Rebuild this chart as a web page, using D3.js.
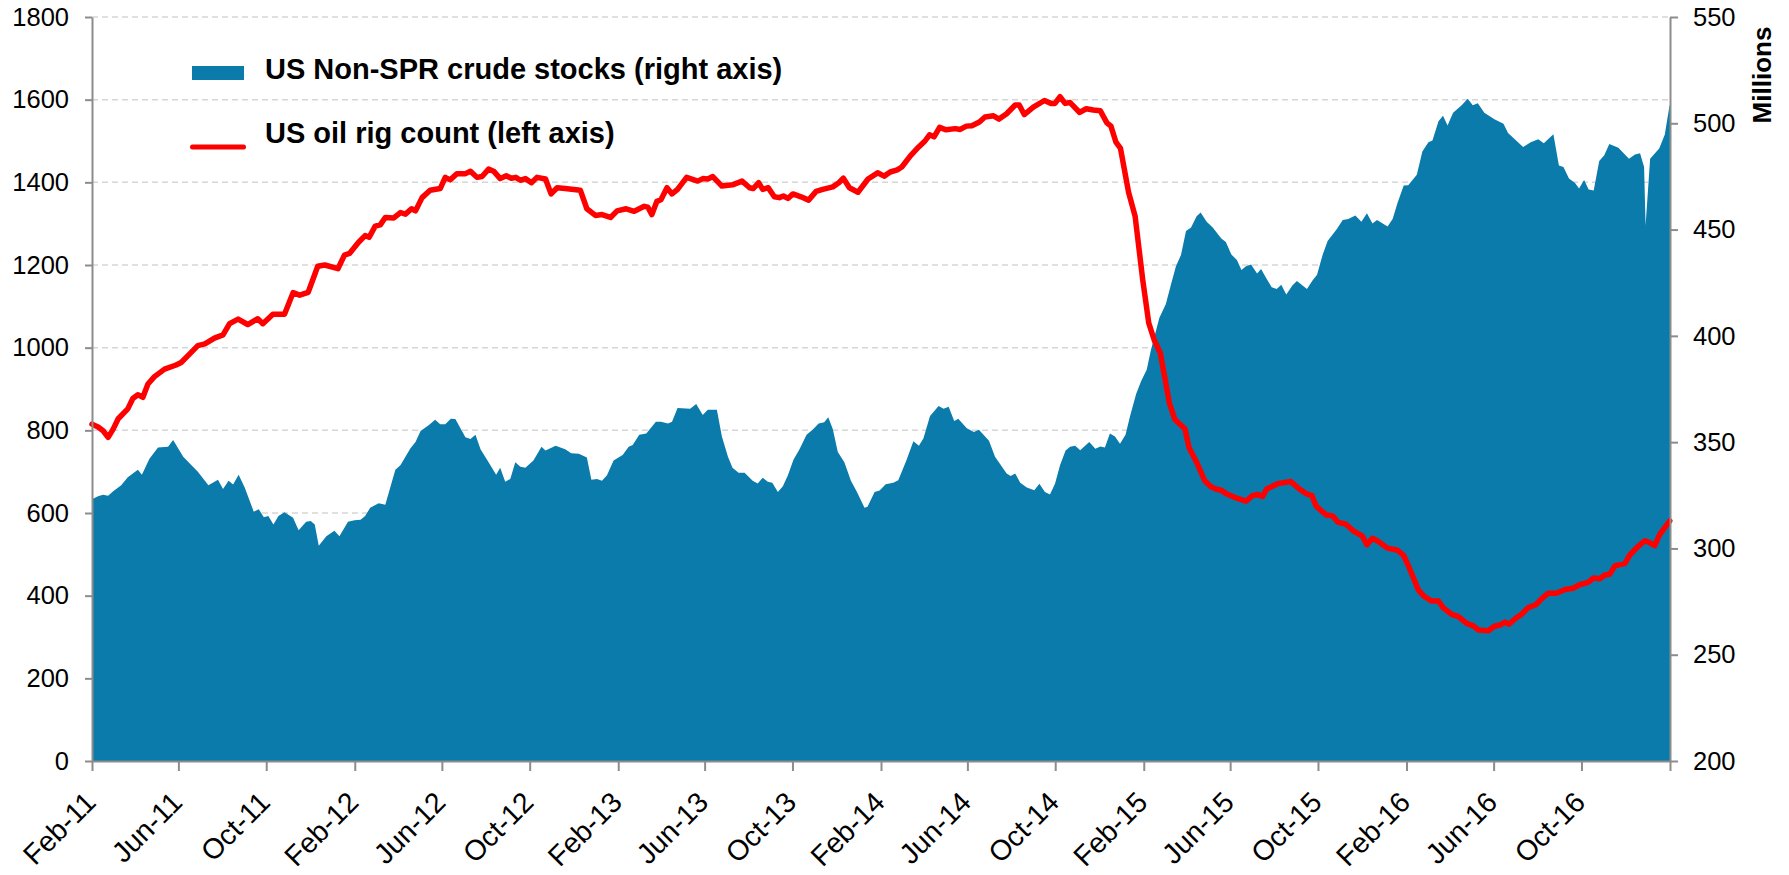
<!DOCTYPE html>
<html>
<head>
<meta charset="utf-8">
<script src="https://cdn.jsdelivr.net/npm/d3@7"></script>
<style>
  body { margin: 0; background: #fff; }
  svg { display: block; font-family: "Liberation Sans", Arial, sans-serif; }
</style>
</head>
<body>
<svg width="1789" height="875"></svg>
<script>
// time is in weeks counted from 1 Feb 2011
const startDate = new Date(2011, 1, 1);
const endDate = new Date(2017, 1, 1);

const rigWeeks = [0, 1.2, 2.2, 3.2, 4.2, 5.2, 7.1, 8.1, 9.1, 10.1, 11.1, 12.4, 14.4, 16.7, 17.7, 19, 21, 22.4, 24.3, 26,
  27.3, 29, 30.9, 32.9, 33.9, 35.9, 38.2, 39.9, 41.2, 42.9, 44.8, 46.2, 48.8, 50.1, 51.1, 52.9, 54.2, 55, 56.2, 57.2,
  58.2, 59.9, 61.2, 62.2, 63.4, 64.2, 65.5, 67.1, 69.1, 70.1, 71.1, 72.4, 74.1, 75.1, 76.4, 77.4, 78.7, 79.7, 81, 82.2,
  83.2, 84.1, 85, 86, 87.2, 88.3, 90, 91.1, 92.3, 93.9, 96.9, 98.2, 99.9, 101.2, 102.9, 104.2, 106, 107.6, 109.6, 110.3,
  111.1, 112.1, 112.9, 114.1, 115.1, 116.2, 118, 120.2, 121.2, 122.2, 123.2, 125, 127.1, 129, 130.5, 131.2, 132.3, 133.1, 134.2, 135.4,
  136.4, 137.2, 138.1, 139.1, 140.7, 142.2, 143.7, 145, 147, 148.2, 149.1, 150.3, 152, 154, 155.9, 157.2, 158.4, 159.8, 160.7, 162.4,
  164, 165.3, 166.2, 167.1, 168.2, 169.5, 171.3, 172.3, 173.5, 174.6, 176.1, 177.2, 178.9, 180, 181.5, 183.2, 184, 185, 186.8, 189,
  190.3, 191.1, 192.1, 193.1, 194.1, 196, 197.3, 198.7, 200.1, 201.4, 202.2, 203.2, 204.1, 205.7, 207, 208.5, 209.7, 210.8, 212, 213.8,
  214.9, 216.9, 217.7, 219.2, 220.8, 222, 223, 224.1, 225, 226.7, 229, 230.3, 231.3, 232.3, 233.1, 235.3, 237.9, 239.6, 240.9, 242.1,
  242.9, 243.9, 245, 246.2, 247.2, 248.8, 250.3, 252.1, 253, 254.1, 255.4, 257.1, 259.1, 260.3, 261.3, 262.2, 263.2, 264.2, 265.8, 267.2,
  268.1, 269.8, 271.1, 272.8, 274.1, 275.1, 277.1, 278.3, 279.4, 280.4, 281.2, 282.4, 283.7, 285, 286.5, 287.7, 289, 290.6, 292.3, 293.9,
  295.3, 296.9, 298, 299.2, 300.2, 301.2, 302.2, 304.2, 305.2, 306.8, 308.2, 308.8, 310.1, 311.1, 313.1];
const rigCounts = [815, 808, 799, 783, 803, 828, 852, 877, 886, 880, 912, 930, 948, 958, 964, 980, 1005, 1009, 1023, 1031,
  1058, 1069, 1056, 1070, 1058, 1081, 1081, 1133, 1127, 1134, 1197, 1200, 1191, 1224, 1228, 1255, 1271, 1267, 1294, 1297,
  1315, 1314, 1327, 1323, 1336, 1331, 1363, 1381, 1385, 1412, 1406, 1421, 1421, 1427, 1412, 1414, 1432, 1427, 1409, 1416,
  1410, 1412, 1405, 1409, 1399, 1412, 1408, 1372, 1387, 1385, 1381, 1336, 1320, 1322, 1315, 1331, 1336, 1330, 1342, 1340,
  1322, 1354, 1358, 1387, 1372, 1383, 1412, 1403, 1409, 1408, 1414, 1391, 1394, 1403, 1387, 1385, 1399, 1383, 1387, 1365,
  1363, 1367, 1361, 1372, 1365, 1357, 1378, 1383, 1389, 1399, 1410, 1387, 1376, 1408, 1423, 1415, 1425, 1430, 1437, 1464,
  1485, 1500, 1515, 1510, 1533, 1527, 1530, 1528, 1536, 1537, 1546, 1558, 1561, 1553, 1566, 1587, 1587, 1564, 1582, 1598,
  1591, 1591, 1607, 1591, 1593, 1569, 1578, 1575, 1573, 1544, 1536, 1497, 1482, 1376, 1318, 1165, 1060, 1018, 987, 866,
  826, 803, 758, 723, 678, 664, 658, 655, 647, 638, 629, 642, 645, 640, 658, 671, 676, 658, 647, 642,
  617, 606, 595, 593, 578, 573, 557, 544, 523, 539, 530, 515, 510, 497, 470, 444, 414, 400, 387, 387,
  371, 355, 350, 333, 327, 317, 315, 326, 329, 336, 331, 344, 355, 371, 378, 393, 406, 406, 415, 418,
  427, 432, 443, 441, 450, 452, 472, 478, 499, 519, 533, 530, 521, 548, 581];

const stockWeeks = [0, 1.2, 2.2, 3.2, 4.2, 5.8, 7.1, 9.1, 9.9, 11.4, 13.1, 15.1, 16.1, 18.1, 21, 23.1, 25, 26, 27.1, 28,
  29.1, 30.3, 32.1, 33.1, 34.1, 35, 36, 37, 38.2, 39.9, 41, 42.5, 43.4, 44.2, 45, 46.5, 48.1, 49.1, 50.8, 52.1,
  53.3, 54.2, 55.2, 56.9, 58.2, 60.2, 61.2, 63.2, 64.2, 65.2, 66.8, 68.1, 69.1, 70.1, 71.2, 72.1, 74.1, 75.1, 76.1, 77.1,
  78.7, 80.2, 81, 82, 83, 84, 85, 86, 87.6, 89.2, 90, 92, 93.9, 95.1, 96.6, 98.2, 99.1, 100.2, 101.2, 102.2,
  103.5, 105.3, 106.5, 107.3, 108.6, 110, 111.9, 112.9, 114.3, 115.1, 116.2, 118.7, 119.9, 121.2, 122.2, 124, 125, 126.2, 127.1, 128.3,
  129.5, 131.1, 132.1, 133.1, 134.1, 135, 136.1, 137.1, 138.1, 139.2, 140.4, 141.8, 143, 144.2, 145.3, 146.1, 147, 148, 149.3, 150.6,
  151.8, 153.3, 153.9, 155.3, 156.3, 157.5, 159, 160, 161.6, 163, 164.1, 165, 166.3, 168, 169, 170, 171.1, 171.9, 173.6, 175,
  176, 178, 179.2, 181.5, 182.3, 183.2, 184.2, 185.5, 187, 188, 189.1, 190.1, 191.1, 192.1, 193.2, 194.1, 195.1, 196.1, 197.9, 199.1,
  200.1, 201, 202, 203, 204, 205.1, 206, 207.2, 208.2, 209.3, 210.1, 211.8, 213.1, 214.1, 215.1, 216.1, 217.1, 218.1, 219.2, 220,
  221.2, 222.4, 224.1, 225, 226.1, 227.2, 228.1, 229, 230, 231.2, 232, 233, 234.1, 235.1, 236, 237, 238.2, 239.1, 241.1, 242.2,
  243.1, 244.2, 245.2, 247, 248.2, 249.3, 250.7, 251.9, 253, 254.1, 255, 257.1, 258.1, 259.1, 260.3, 261.2, 262.9, 264, 265.2, 266,
  267.2, 268.1, 269, 270.1, 271.8, 273, 274, 275, 276.3, 278.3, 280.1, 281, 284, 285.5, 287, 288.1, 290, 291.1, 292, 293.1,
  294.3, 295.1, 296.1, 297, 298, 299.1, 300.1, 301.1, 302.9, 305, 306.2, 307.2, 308, 308.3, 309.2, 311, 312.1, 313, 313.2];
const stockLevels = [323.1, 324.5, 325.2, 324.8, 326.9, 329.7, 333.5, 337, 334.7, 342.2, 347.5, 347.8, 351, 343.1, 336.1, 329.7, 332.3, 328, 331.8, 330.1,
  334.7, 328.7, 317.3, 318.4, 314.7, 315.2, 311.2, 315.2, 317, 314.4, 308.6, 312.6, 312.9, 311.2, 301.3, 305.7, 308.3, 305.7, 312.6, 313.2,
  313.5, 315.2, 319.1, 321.3, 320.5, 337, 339.1, 347.1, 350.1, 355.3, 357.9, 360.5, 358.4, 358.4, 361, 360.9, 352.3, 351.5, 353.5, 346.6,
  340.5, 334.7, 337.9, 331.4, 332.7, 340.5, 338.4, 337.9, 341.4, 347.8, 346.1, 348.3, 346.6, 344.8, 344.5, 342.8, 332.3, 332.7, 331.8, 334.4,
  341.4, 344, 347.8, 348.7, 353.5, 354.1, 359.6, 359.6, 358.8, 359.6, 366.1, 365.7, 368, 362.8, 365.2, 365.2, 352.7, 343.1, 337.9, 335.6,
  335.6, 331.8, 330.6, 333.2, 331.4, 330.9, 326.6, 329.2, 334.4, 341.7, 346.6, 353.5, 355.8, 358.8, 359.3, 361.7, 356.2, 345.4, 340.5, 331.8,
  326.6, 319.1, 319.6, 326.6, 327.2, 330.2, 330.9, 332.1, 341.4, 350.4, 348.3, 351.8, 362.3, 367, 365.7, 366.6, 360, 361, 356.5, 354.8,
  355.8, 350.6, 343.1, 335.3, 334.1, 335.3, 330.9, 328.7, 327.4, 330.4, 326.6, 325.4, 330.4, 339.1, 346.1, 347.8, 348.3, 346.2, 350.1, 346.9,
  348, 347.5, 354.1, 352.7, 349.2, 353.5, 362.3, 372.7, 378.8, 384, 393, 408.4, 415, 424.1, 432.8, 438, 449.3, 451, 456.3, 458,
  453.7, 451, 445.8, 444.1, 438.3, 435.7, 431, 432.7, 433.6, 429.3, 431.4, 427.2, 422.9, 422, 424.1, 419.4, 423.7, 425.8, 422, 426.1,
  428.7, 438, 444.6, 450.2, 454.5, 455, 456.6, 453.7, 457.7, 452.8, 454.5, 451.4, 455, 462.7, 470.7, 470.8, 475.8, 486.7, 491.1, 491.9,
  501, 503.6, 498.9, 505, 508.5, 511.6, 508.5, 509.4, 505, 501.9, 499.8, 495.4, 488.8, 491.1, 492.5, 490.6, 494.9, 480.1, 479.4, 474,
  471.9, 469.3, 473.3, 468.8, 468.4, 482.3, 485, 490.2, 488.5, 483.3, 485.3, 485.9, 479.4, 451.9, 483.3, 488.1, 494.6, 507.6, 509.4];

const leftTicks = [0, 200, 400, 600, 800, 1000, 1200, 1400, 1600, 1800];
const rightTicks = [200, 250, 300, 350, 400, 450, 500, 550];
const xTickLabels = ['Feb-11', 'Jun-11', 'Oct-11', 'Feb-12', 'Jun-12', 'Oct-12', 'Feb-13', 'Jun-13', 'Oct-13',
  'Feb-14', 'Jun-14', 'Oct-14', 'Feb-15', 'Jun-15', 'Oct-15', 'Feb-16', 'Jun-16', 'Oct-16'];
const stockName = 'US Non-SPR crude stocks (right axis)';
const rigName = 'US oil rig count (left axis)';

const blue = '#0a7bab';
const red = '#ff0000';
const axisGrey = '#8c8c8c';

const svg = d3.select('svg');
const plotLeft = 92, plotRight = 1670, plotTop = 17, plotBottom = 761;

const weekToDate = (w) => new Date(+startDate + w * 7 * 864e5);
const rigData = rigWeeks.map((w, i) => ({ date: weekToDate(w), v: rigCounts[i] }));
const stockData = stockWeeks.map((w, i) => ({ date: weekToDate(w), v: stockLevels[i] }));

const x = d3.scaleTime().domain([startDate, endDate]).range([plotLeft, plotRight]);
const yLeft = d3.scaleLinear().domain([0, 1800]).range([plotBottom, plotTop]);
const yRight = d3.scaleLinear().domain([200, 550]).range([plotBottom, plotTop]);

// gridlines
svg.append('g')
  .selectAll('line')
  .data(leftTicks.slice(1))
  .enter()
    .append('line')
    .attr('x1', plotLeft)
    .attr('x2', plotRight)
    .attr('y1', (d) => yLeft(d))
    .attr('y2', (d) => yLeft(d))
    .attr('stroke', '#d6d6d6')
    .attr('stroke-width', 1.5)
    .attr('stroke-dasharray', '6,4');

const area = d3.area()
  .x((d) => x(d.date))
  .y0(yRight(200))
  .y1((d) => yRight(d.v));
svg.append('path')
  .datum(stockData)
  .attr('fill', blue)
  .attr('d', area);

const line = d3.line()
  .x((d) => x(d.date))
  .y((d) => yLeft(d.v));
svg.append('path')
  .datum(rigData)
  .attr('fill', 'none')
  .attr('stroke', red)
  .attr('stroke-width', 5.5)
  .attr('stroke-linejoin', 'round')
  .attr('stroke-linecap', 'round')
  .attr('d', line);

// axes
const xTickDates = d3.timeMonth.range(startDate, d3.timeDay.offset(endDate, 1), 4);
const xAxis = svg.append('g')
  .attr('transform', `translate(0,${plotBottom})`)
  .call(d3.axisBottom(x)
    .tickValues(xTickDates)
    .tickSize(10)
    .tickSizeOuter(0)
    .tickFormat((d, i) => xTickLabels[i] || ''));

const leftAxis = svg.append('g')
  .attr('transform', `translate(${plotLeft},0)`)
  .call(d3.axisLeft(yLeft).tickValues(leftTicks).tickFormat(d3.format('d'))
    .tickSize(7).tickSizeOuter(0).tickPadding(16));

const rightAxis = svg.append('g')
  .attr('transform', `translate(${plotRight},0)`)
  .call(d3.axisRight(yRight).tickValues(rightTicks).tickFormat(d3.format('d'))
    .tickSize(8).tickSizeOuter(0).tickPadding(15));

[xAxis, leftAxis, rightAxis].forEach((g) => {
  g.selectAll('path, line').attr('stroke', axisGrey).attr('stroke-width', 2);
  g.selectAll('text')
    .attr('fill', '#000')
    .style('font-size', '25.5px')
    .style('font-family', '"Liberation Sans", Arial, sans-serif');
});

xAxis.selectAll('text')
  .attr('text-anchor', 'end')
  .attr('transform', 'rotate(-45)')
  .attr('x', -27)
  .attr('y', 34)
  .attr('dy', null)
  .style('font-size', '28.5px');

svg.append('text')
  .attr('transform', 'translate(1771,75) rotate(-90)')
  .attr('text-anchor', 'middle')
  .style('font-size', '26px')
  .style('font-weight', 'bold')
  .text('Millions');

// legend
const legend = svg.append('g');
legend.append('rect')
  .attr('x', 192)
  .attr('y', 66)
  .attr('width', 52)
  .attr('height', 14)
  .attr('fill', blue);
legend.append('line')
  .attr('x1', 192.5)
  .attr('x2', 243.5)
  .attr('y1', 147)
  .attr('y2', 147)
  .attr('stroke', red)
  .attr('stroke-width', 5)
  .attr('stroke-linecap', 'round');
legend.selectAll('text')
  .data([[stockName, 78.5], [rigName, 142.5]])
  .enter()
    .append('text')
    .attr('x', 265)
    .attr('y', (d) => d[1])
    .style('font-size', '29px')
    .style('font-weight', 'bold')
    .text((d) => d[0]);
</script>
</body>
</html>
